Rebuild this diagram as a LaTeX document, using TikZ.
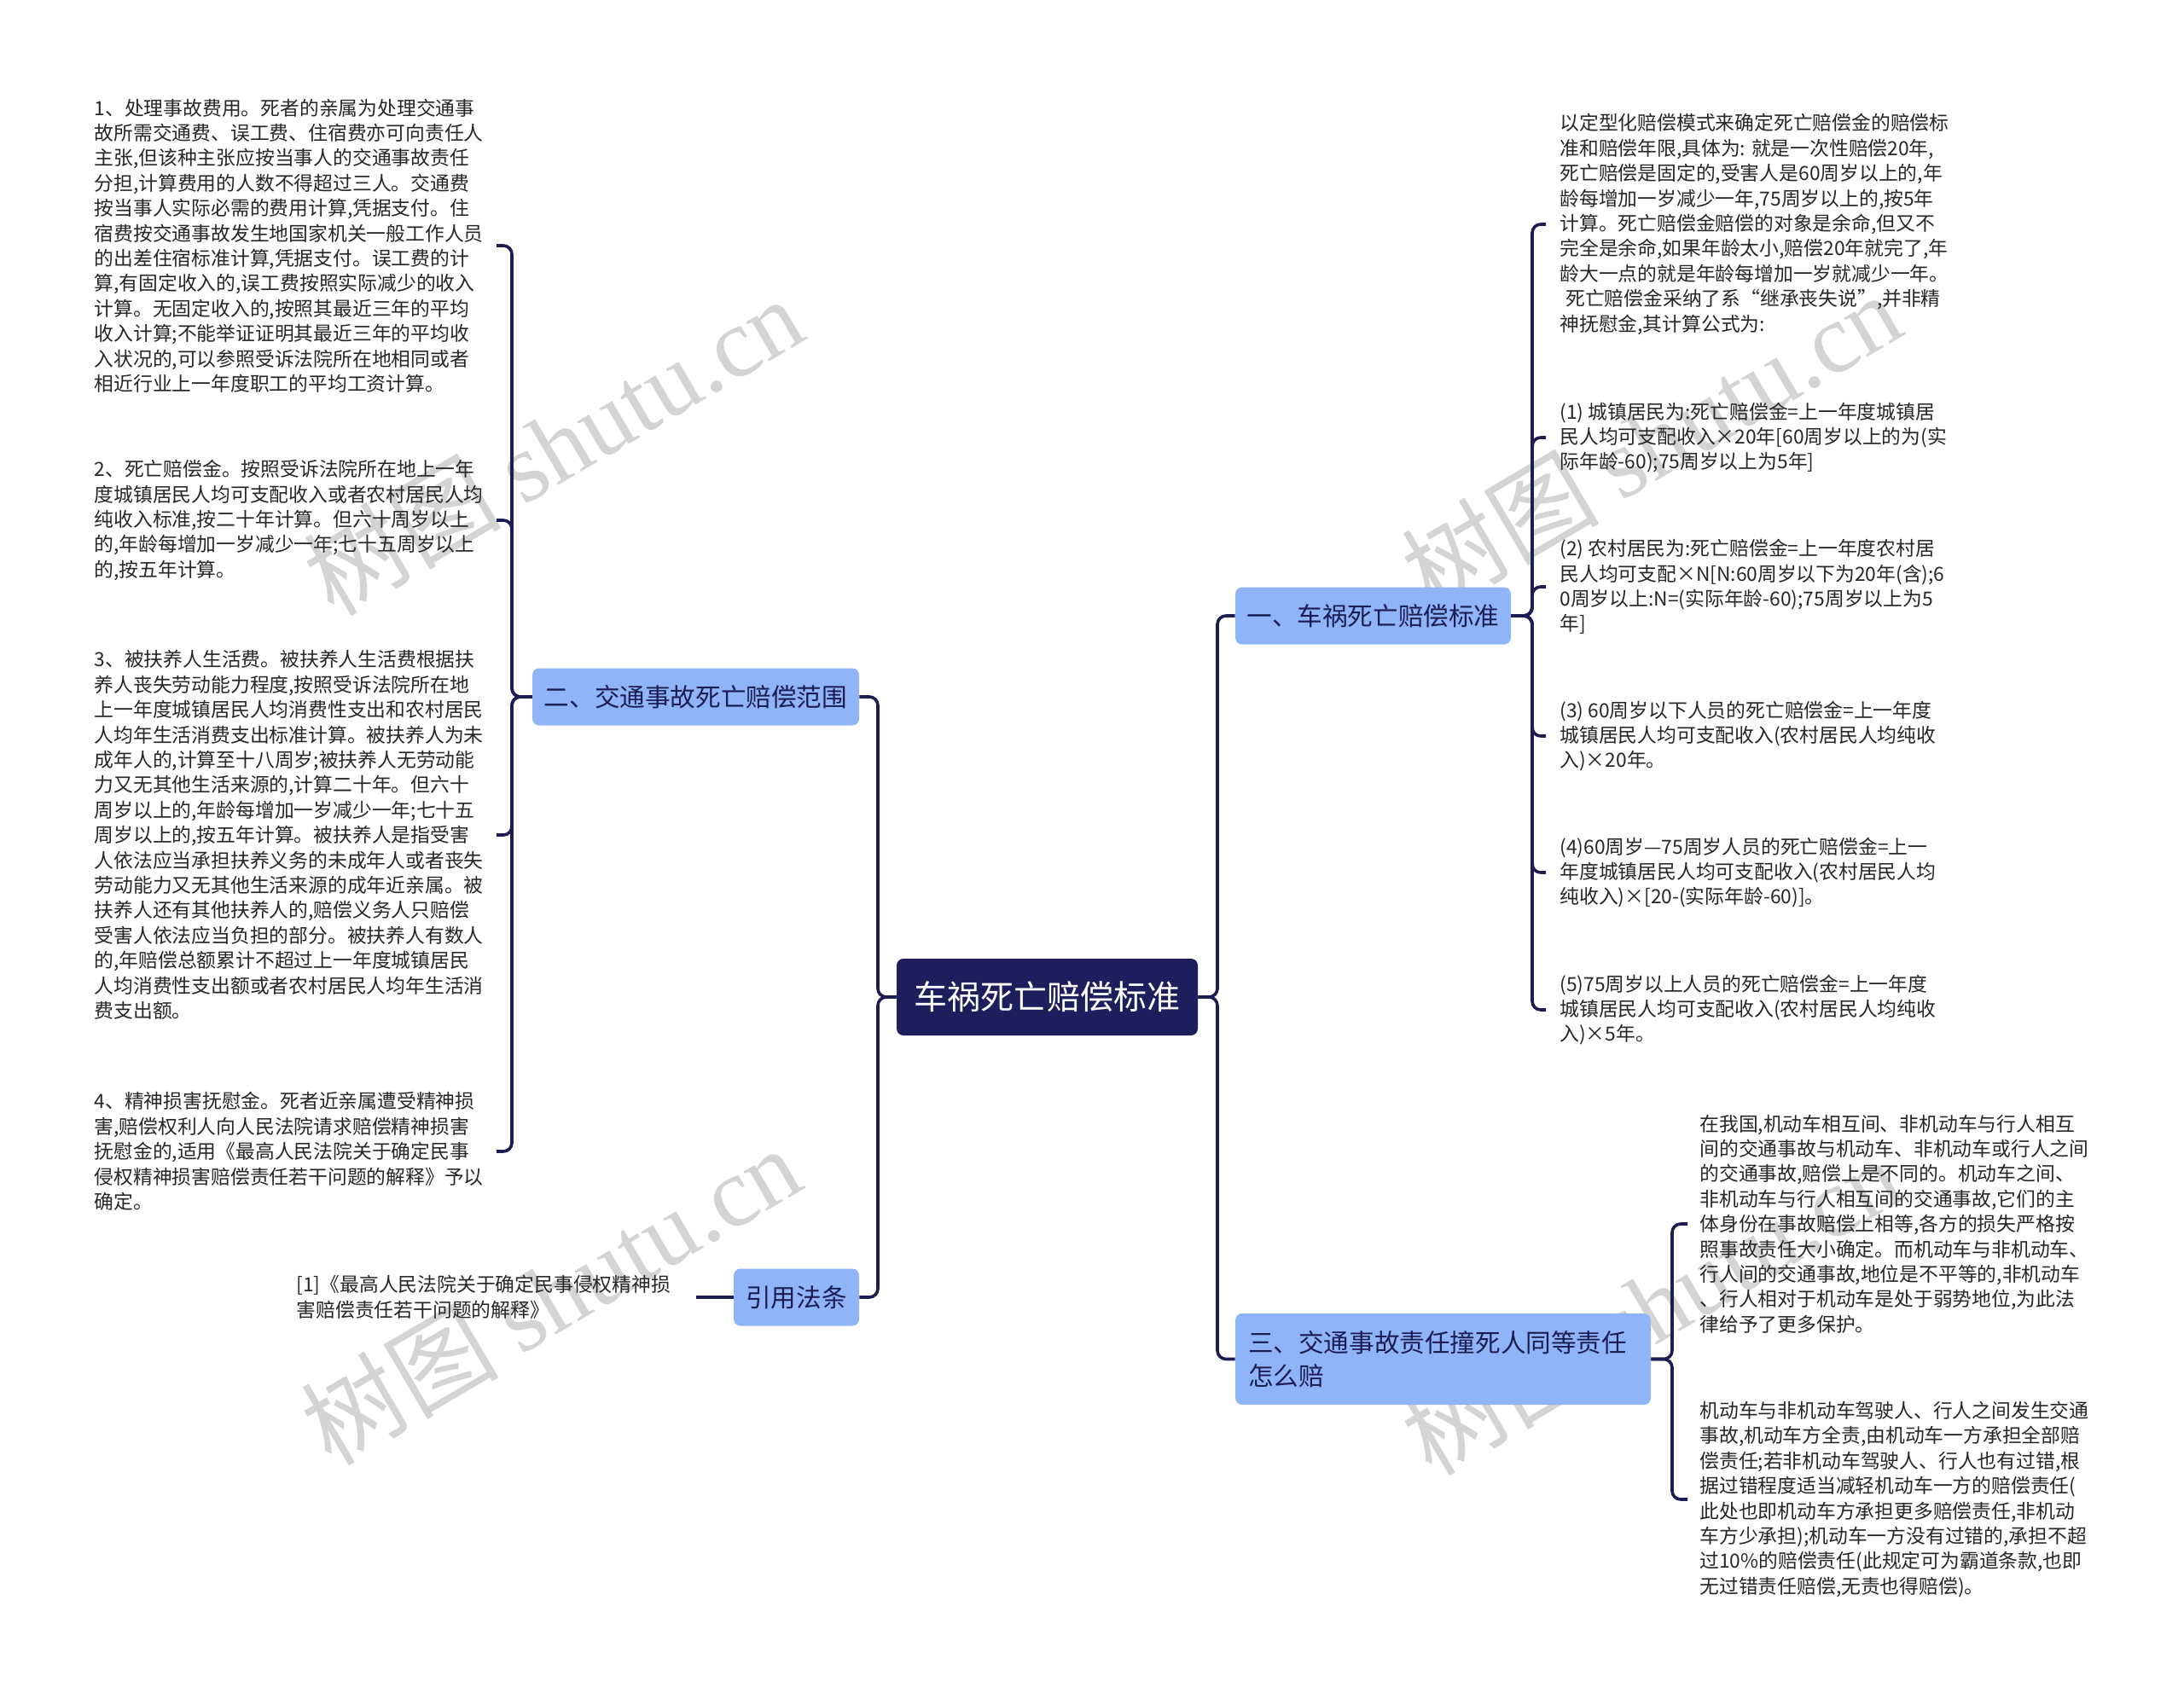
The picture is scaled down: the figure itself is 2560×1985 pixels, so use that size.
\documentclass[tikz,border=0pt]{standalone}
\usepackage{fontspec}
\setmainfont{Noto Sans CJK SC}
\newfontfamily\wmlat{Liberation Serif}
\usetikzlibrary{calc}
\definecolor{navy}{RGB}{28,29,83}
\definecolor{rootfill}{RGB}{30,30,92}
\definecolor{bfill}{RGB}{143,180,247}
\definecolor{txt}{RGB}{38,38,38}
\definecolor{wm}{RGB}{212,212,212}
\begin{document}
\begin{tikzpicture}[x=0.5pt,y=-0.5pt,
  root/.style={fill=rootfill, text=white, rounded corners=4pt, minimum width=176.5pt, minimum height=45pt, inner sep=0pt, font=\fontsize{19.5pt}{24pt}\selectfont},
  branch/.style={fill=bfill, text=navy, rounded corners=4pt, minimum height=33.5pt, inner sep=0pt, font=\fontsize{14.8pt}{19.5pt}\selectfont},
  rleaf/.style={text=txt, align=left, anchor=west, inner xsep=8pt, inner ysep=0pt, font=\fontsize{11.4pt}{14.7pt}\selectfont},
  lleaf/.style={text=txt, align=left, anchor=east, text width=235.5pt, inner sep=0pt, font=\fontsize{11.4pt}{14.7pt}\selectfont},
  conn/.style={draw=navy, line width=1.8pt, rounded corners=5pt},
  wmark/.style={text=wm, rotate=30.5, inner sep=0pt, font=\fontsize{58pt}{60pt}\selectfont}
]
\useasboundingbox (0,0) rectangle (2560,1985);

% watermarks
\node[wmark] (w1) at (648,522) {树图 {\wmlat shutu.cn}};
\node[wmark] (w2) at (645,1518) {树图 {\wmlat shutu.cn}};
\node[wmark] (w3) at (1935,517) {树图 {\wmlat shutu.cn}};
\node[wmark] (w4) at (1935,1530) {树图 {\wmlat shutu.cn}};

% root and branches
\node[root] (root) at (1227.5,1169) {车祸死亡赔偿标准};
\node[branch, minimum width=161.5pt] (b1) at (1609.5,722) {一、车祸死亡赔偿标准};
\node[branch, minimum width=191.5pt] (b2) at (815.5,817) {二、交通事故死亡赔偿范围};
\node[branch, minimum width=243.5pt, minimum height=53.5pt, text width=228.5pt, align=left, inner xsep=7.5pt] (b3) at (1691.5,1593.5) {三、交通事故责任撞死人同等责任\\怎么赔};
\node[branch, minimum width=73.5pt] (b4) at (933.5,1521) {引用法条};

% right leaves of branch 1
\node[rleaf] (a0) at (1812,263) {以定型化赔偿模式来确定死亡赔偿金的赔偿标\\准和赔偿年限,具体为: 就是一次性赔偿20年,\\死亡赔偿是固定的,受害人是60周岁以上的,年\\龄每增加一岁减少一年,75周岁以上的,按5年\\计算。死亡赔偿金赔偿的对象是余命,但又不\\完全是余命,如果年龄太小,赔偿20年就完了,年\\龄大一点的就是年龄每增加一岁就减少一年。\\\hspace*{0.3em}死亡赔偿金采纳了系“继承丧失说”,并非精\\神抚慰金,其计算公式为:};
\node[rleaf] (a1) at (1812,513) {(1) 城镇居民为:死亡赔偿金=上一年度城镇居\\民人均可支配收入×20年[60周岁以上的为(实\\际年龄-60);75周岁以上为5年]};
\node[rleaf] (a2) at (1812,688) {(2) 农村居民为:死亡赔偿金=上一年度农村居\\民人均可支配×N[N:60周岁以下为20年(含);6\\0周岁以上:N=(实际年龄-60);75周岁以上为5\\年]};
\node[rleaf] (a3) at (1812,863) {(3) 60周岁以下人员的死亡赔偿金=上一年度\\城镇居民人均可支配收入(农村居民人均纯收\\入)×20年。};
\node[rleaf] (a4) at (1812,1023) {(4)60周岁—75周岁人员的死亡赔偿金=上一\\年度城镇居民人均可支配收入(农村居民人均\\纯收入)×[20-(实际年龄-60)]。};
\node[rleaf] (a5) at (1812,1184) {(5)75周岁以上人员的死亡赔偿金=上一年度\\城镇居民人均可支配收入(农村居民人均纯收\\入)×5年。};

% right leaves of branch 3
\node[rleaf, inner xsep=7pt] (c1) at (1978,1435) {在我国,机动车相互间、非机动车与行人相互\\间的交通事故与机动车、非机动车或行人之间\\的交通事故,赔偿上是不同的。机动车之间、\\非机动车与行人相互间的交通事故,它们的主\\体身份在事故赔偿上相等,各方的损失严格按\\照事故责任大小确定。而机动车与非机动车、\\行人间的交通事故,地位是不平等的,非机动车\\、行人相对于机动车是处于弱势地位,为此法\\律给予了更多保护。};
\node[rleaf, inner xsep=7pt] (c2) at (1978,1758) {机动车与非机动车驾驶人、行人之间发生交通\\事故,机动车方全责,由机动车一方承担全部赔\\偿责任;若非机动车驾驶人、行人也有过错,根\\据过错程度适当减轻机动车一方的赔偿责任(\\此处也即机动车方承担更多赔偿责任,非机动\\车方少承担);机动车一方没有过错的,承担不超\\过10\%的赔偿责任(此规定可为霸道条款,也即\\无过错责任赔偿,无责也得赔偿)。};

% left leaves of branch 2
\node[lleaf] (d1) at (582,288) {1、处理事故费用。死者的亲属为处理交通事\\故所需交通费、误工费、住宿费亦可向责任人\\主张,但该种主张应按当事人的交通事故责任\\分担,计算费用的人数不得超过三人。交通费\\按当事人实际必需的费用计算,凭据支付。住\\宿费按交通事故发生地国家机关一般工作人员\\的出差住宿标准计算,凭据支付。误工费的计\\算,有固定收入的,误工费按照实际减少的收入\\计算。无固定收入的,按照其最近三年的平均\\收入计算;不能举证证明其最近三年的平均收\\入状况的,可以参照受诉法院所在地相同或者\\相近行业上一年度职工的平均工资计算。};
\node[lleaf] (d2) at (582,610) {2、死亡赔偿金。按照受诉法院所在地上一年\\度城镇居民人均可支配收入或者农村居民人均\\纯收入标准,按二十年计算。但六十周岁以上\\的,年龄每增加一岁减少一年;七十五周岁以上\\的,按五年计算。};
\node[lleaf] (d3) at (582,979) {3、被扶养人生活费。被扶养人生活费根据扶\\养人丧失劳动能力程度,按照受诉法院所在地\\上一年度城镇居民人均消费性支出和农村居民\\人均年生活消费支出标准计算。被扶养人为未\\成年人的,计算至十八周岁;被扶养人无劳动能\\力又无其他生活来源的,计算二十年。但六十\\周岁以上的,年龄每增加一岁减少一年;七十五\\周岁以上的,按五年计算。被扶养人是指受害\\人依法应当承担扶养义务的未成年人或者丧失\\劳动能力又无其他生活来源的成年近亲属。被\\扶养人还有其他扶养人的,赔偿义务人只赔偿\\受害人依法应当负担的部分。被扶养人有数人\\的,年赔偿总额累计不超过上一年度城镇居民\\人均消费性支出额或者农村居民人均年生活消\\费支出额。};
\node[lleaf] (d4) at (582,1350) {4、精神损害抚慰金。死者近亲属遭受精神损\\害,赔偿权利人向人民法院请求赔偿精神损害\\抚慰金的,适用《最高人民法院关于确定民事\\侵权精神损害赔偿责任若干问题的解释》予以\\确定。};

% reference leaf
\node[lleaf, text width=234pt] (ref) at (816,1521) {{[1]}《最高人民法院关于确定民事侵权精神损\\害赔偿责任若干问题的解释》};

% connectors root -> branches
\draw[conn] (root.east) -- (1427,1169) |- (b1.west);
\draw[conn] (root.east) -- (1427,1169) |- (b3.west);
\draw[conn] (root.west) -- (1029,1169) |- (b2.east);
\draw[conn] (root.west) -- (1029,1169) |- (b4.east);

% branch 1 -> leaves
\foreach \n in {a0,a1,a2,a3,a4,a5}
  \draw[conn] (b1.east) -- (1796,722) |- (\n.west);
% branch 3 -> leaves
\foreach \n in {c1,c2}
  \draw[conn] (b3.east) -- (1960,1593.5) |- (\n.west);
% branch 2 -> leaves
\foreach \n in {d1,d2,d3,d4}
  \draw[conn] (b2.west) -- (600,817) |- (\n.east);
% branch 4 -> reference
\draw[conn] (b4.west) -- (ref.east);
\end{tikzpicture}
\end{document}
